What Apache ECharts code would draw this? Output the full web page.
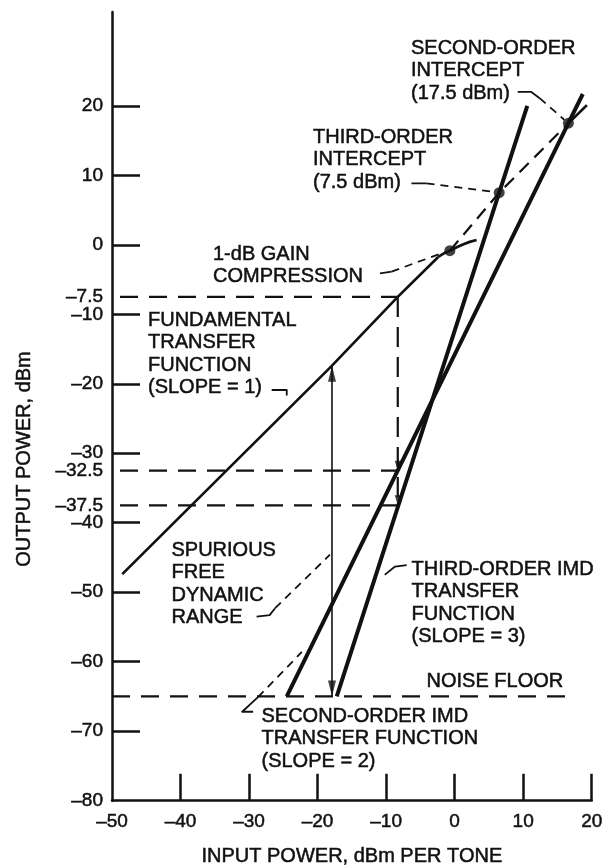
<!DOCTYPE html>
<html>
<head>
<meta charset="utf-8">
<script src="https://cdn.jsdelivr.net/npm/echarts@6/dist/echarts.min.js"></script>
<style>
  html, body { margin: 0; padding: 0; background: #fff; }
  #chart { width: 605px; height: 867px; }
</style>
</head>
<body>
<div id="chart"></div>
<script>
// ---- values (input dBm per tone, output dBm) ----
const xTickValues = [-40, -30, -20, -10, 0, 10, 20];
const yTickValues = [-70, -60, -50, -40, -30, -20, -10, 0, 10, 20];
const yLabelValues = [-80, -70, -60, -50, -40, -37.5, -32.5, -30, -20, -10, -7.5, 0, 10, 20];

// fundamental: linear region, then the bend into compression
const fundamental = [[-48.5, -47.4], [-18, -17.5], [-8.3, -7.5], [-2.4, -1.75]];
const compression = [[-2.4, -1.75], [-1.5, -1.2], [-0.7, -0.85], [0.3, -0.35], [1.2, 0.05], [2.2, 0.42], [3.2, 0.7]];
const fundamentalExtension = [[-0.7, -0.85], [6.5, 7.5], [16.6, 17.5]];
const fundamentalTail = [[16.6, 17.5], [19.3, 20.1]];
const thirdOrderImd = [[-17.2, -65], [6.5, 7.5], [10.6, 20.0]];
const secondOrderImd = [[-24.5, -65], [16.6, 17.5], [18.7, 21.7]];
const keyPoints = [[-0.7, -0.85], [6.5, 7.5], [16.6, 17.5]];

const noiseFloor = -65;
const noiseFloorEnd = 17.6;
const testInput = -8.3;
const testLevels = [-7.5, -32.5, -37.5];
const sfdrInput = -17.9;
const sfdrTop = -17.4;

// annotation leader lines, in axis units
const leaders = {
  solid: [
    [[9.2, 22.0], [11.2, 22.0], [12.4, 21.1]],
    [[-6.3, 8.85], [-4.1, 8.85]],
    [[-10.9, -4.1], [-9.2, -3.85]],
    [[-26.7, -20.9], [-24.5, -20.9], [-24.5, -21.7]],
    [[-28.9, -53.5], [-27.0, -53.3], [-26.2, -52.3]],
    [[-7.0, -46.1], [-8.7, -46.3], [-10.2, -47.5]],
    [[-29.4, -67.2], [-31.0, -67.2], [-28.7, -65.1]]
  ],
  dashed: [
    [[12.4, 21.1], [16.0, 18.0]],
    [[-4.1, 8.85], [5.8, 7.6]],
    [[-9.2, -3.85], [-1.4, -1.05]],
    [[-26.2, -52.3], [-18.2, -44.6]],
    [[-28.7, -65.1], [-22.3, -58.6]]
  ]
};

const FONT = '"Liberation Sans", Arial, Helvetica, sans-serif';
const INK = '#111';

function line(data, width, dash, extra) {
  return Object.assign({
    type: 'line', data: data, symbol: 'none', silent: true, animation: false,
    lineStyle: { color: INK, width: width, type: dash || 'solid', cap: 'butt', join: 'round' },
    z: 3
  }, extra || {});
}

const series = [];
series.push(line(fundamental, 2.7));
series.push(line(compression, 2.7));
series.push(line(fundamentalExtension, 2.2, [13, 8]));
series.push(line(fundamentalTail, 2.7));
series.push(line(thirdOrderImd, 4));
series.push(line(secondOrderImd, 4));
series.push(line([[-50, noiseFloor], [noiseFloorEnd, noiseFloor]], 2.2, [18, 11]));
testLevels.forEach(function (lv) {
  series.push(line([[-50, lv], [testInput, lv]], 2.2, [18, 11], { lineStyle: { color: INK, width: 2.2, type: [18, 11], dashOffset: -8 } }));
});
series.push(line([[testInput, testLevels[0]], [testInput, testLevels[2]]], 2.2, [20, 10]));
series.push(line([[sfdrInput, noiseFloor], [sfdrInput, sfdrTop]], 1.6));
leaders.solid.forEach(function (d) { series.push(line(d, 1.8)); });
leaders.dashed.forEach(function (d) { series.push(line(d, 1.8, [8, 6])); });

// intercept / compression dots
series.push({
  type: 'scatter', data: keyPoints, symbol: 'circle', symbolSize: 11,
  itemStyle: { color: INK }, silent: true, animation: false, z: 5
});
// arrow heads
series.push({
  type: 'scatter', data: [[sfdrInput, sfdrTop]], symbol: 'triangle', symbolSize: [8, 16],
  symbolOffset: [0, '50%'], itemStyle: { color: INK }, silent: true, animation: false, z: 5
});
series.push({
  type: 'scatter', data: [[sfdrInput, noiseFloor]], symbol: 'triangle', symbolSize: [8, 16],
  symbolRotate: 180, symbolOffset: [0, '-50%'], itemStyle: { color: INK }, silent: true, animation: false, z: 5
});
series.push({
  type: 'scatter', data: [[testInput, testLevels[1]], [testInput, testLevels[2]]], symbol: 'triangle',
  symbolSize: [6, 10], symbolRotate: 180, symbolOffset: [0, '-50%'],
  itemStyle: { color: INK }, silent: true, animation: false, z: 5
});

const dash = function (v) { return String(v).replace('-', '\u2013'); };

const notes = [
  { text: 'SECOND-ORDER\nINTERCEPT\n(17.5 dBm)', x: 411, y: 48.3 },
  { text: 'THIRD-ORDER\nINTERCEPT\n(7.5 dBm)', x: 313, y: 137 },
  { text: '1-dB GAIN\nCOMPRESSION', x: 213, y: 254 },
  { text: 'FUNDAMENTAL\nTRANSFER\nFUNCTION\n(SLOPE = 1)', x: 148, y: 320 },
  { text: 'SPURIOUS\nFREE\nDYNAMIC\nRANGE', x: 171.5, y: 550 },
  { text: 'THIRD-ORDER IMD\nTRANSFER\nFUNCTION\n(SLOPE = 3)', x: 411.5, y: 569 },
  { text: 'NOISE FLOOR', x: 426.5, y: 681.7 },
  { text: 'SECOND-ORDER IMD\nTRANSFER FUNCTION\n(SLOPE = 2)', x: 261.5, y: 716 }
];
const LH = 22.5;
const INKED = { textBorderColor: INK, textBorderWidth: 0.5 };
const graphics = notes.map(function (n) {
  return {
    type: 'text', x: n.x, y: n.y - LH / 2, silent: true,
    style: { text: n.text, font: '20px ' + FONT, fill: INK, lineHeight: LH, verticalAlign: 'top', align: 'left', stroke: INK, lineWidth: 0.5 }
  };
});
graphics.push({
  type: 'text', x: 24, y: 459, rotation: Math.PI / 2, silent: true,
  style: { text: 'OUTPUT POWER, dBm', font: '20px ' + FONT, fill: INK, align: 'center', verticalAlign: 'middle', stroke: INK, lineWidth: 0.5 }
});

const chart = echarts.init(document.getElementById('chart'), null, { renderer: 'canvas' });
chart.setOption({
  animation: false,
  backgroundColor: '#fff',
  grid: { left: 112, right: 13.3, top: 12, bottom: 66.3, containLabel: false, outerBoundsMode: 'none' },
  xAxis: {
    type: 'value', min: -50, max: 20, interval: 10,
    axisLine: { onZero: false, lineStyle: { color: INK, width: 2.5 } },
    axisTick: { inside: true, length: 27, customValues: xTickValues, lineStyle: { color: INK, width: 2.5 } },
    axisLabel: Object.assign({ color: INK, fontSize: 19, fontFamily: FONT, margin: 12, formatter: dash }, INKED),
    splitLine: { show: false },
    name: 'INPUT POWER, dBm PER TONE', nameLocation: 'middle', nameGap: 46,
    nameTextStyle: Object.assign({ color: INK, fontSize: 20, fontFamily: FONT }, INKED)
  },
  yAxis: {
    type: 'value', min: -80, max: 33.5,
    axisLine: { onZero: false, lineStyle: { color: INK, width: 2.5 } },
    axisTick: { inside: true, length: 28, customValues: yTickValues, lineStyle: { color: INK, width: 2.5 } },
    axisLabel: Object.assign({ color: INK, fontSize: 19, fontFamily: FONT, margin: 9, customValues: yLabelValues, formatter: dash }, INKED),
    splitLine: { show: false }
  },
  graphic: graphics,
  series: series
});
</script>
</body>
</html>
